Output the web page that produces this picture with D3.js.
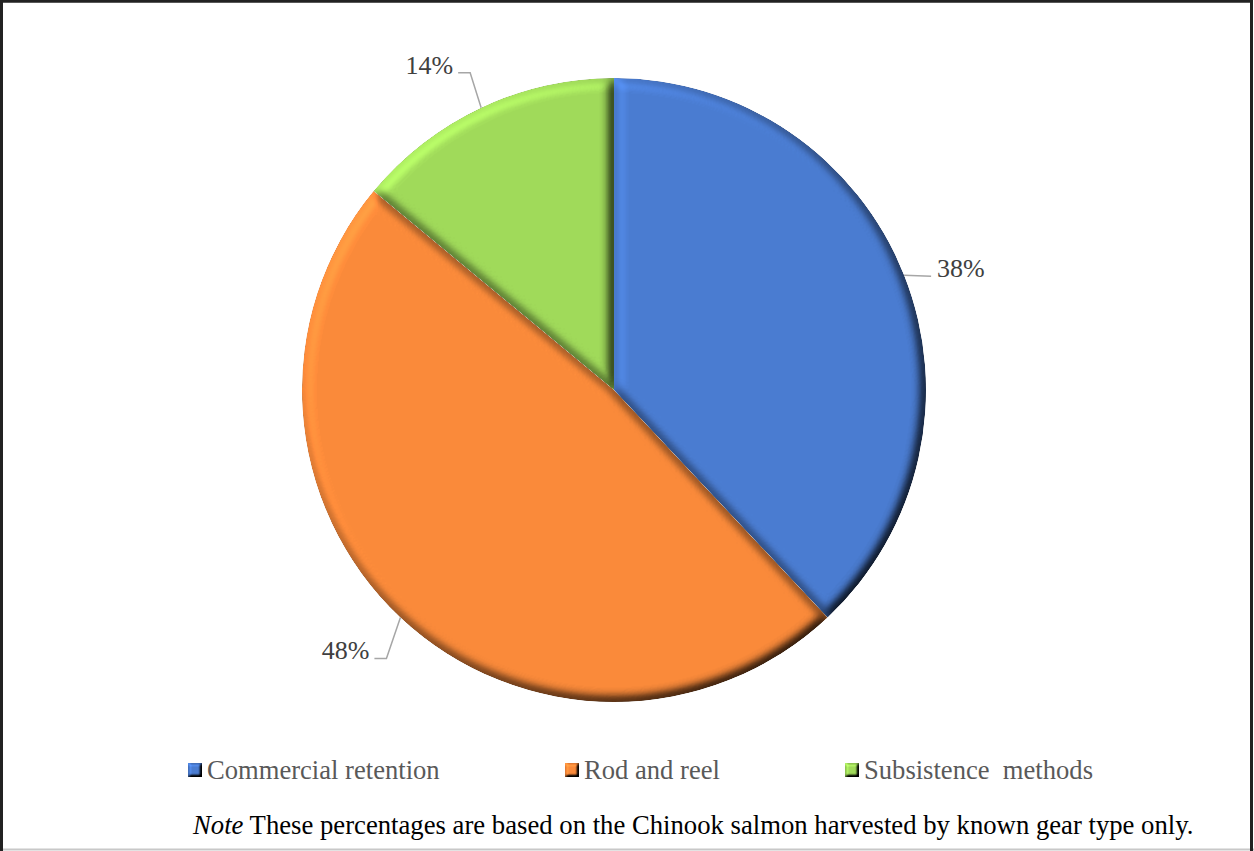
<!DOCTYPE html>
<html>
<head>
<meta charset="utf-8">
<script src="https://cdn.jsdelivr.net/npm/d3@7"></script>
<style>
  html, body { margin: 0; padding: 0; background: #fff; }
  svg { display: block; }
  text { font-family: "Liberation Serif", "Times New Roman", Tinos, "DejaVu Serif", serif; }
</style>
</head>
<body>
<svg id="chart" width="1254" height="851"></svg>
<script>
// Share of Chinook salmon harvest by gear type (percent)
const categories = ["Commercial retention", "Rod and reel", "Subsistence  methods"];
const shares = [38, 48, 14];
const valueLabels = ["38%", "48%", "14%"];
const sliceColors = ["#4a7cd1", "#fa8a3a", "#a0da5a"];
const noteItalic = "Note";
const noteText = " These percentages are based on the Chinook salmon harvested by known gear type only.";

const W = 1254, H = 851;
const svg = d3.select("#chart");
const defs = svg.append("defs");

// Bevel: light the blurred alpha from the upper left and scale the fill
// by the lighting relative to a flat surface.
function addBevel(id, blur, scale, elev) {
  const flat = Math.sin(elev * Math.PI / 180);
  const f = defs.append("filter").attr("id", id)
    .attr("x", "-5%").attr("y", "-5%").attr("width", "110%").attr("height", "110%")
    .attr("color-interpolation-filters", "sRGB");
  f.append("feGaussianBlur").attr("in", "SourceAlpha").attr("stdDeviation", blur).attr("result", "b");
  const lt = f.append("feDiffuseLighting").attr("in", "b").attr("surfaceScale", scale)
    .attr("diffuseConstant", 1).attr("lighting-color", "#fff").attr("result", "l");
  lt.append("feDistantLight").attr("azimuth", 225).attr("elevation", elev);
  f.append("feComposite").attr("in", "SourceGraphic").attr("in2", "l")
    .attr("operator", "arithmetic").attr("k1", 1 / flat).attr("k2", 0).attr("k3", 0).attr("k4", 0)
    .attr("result", "c");
  f.append("feComposite").attr("in", "c").attr("in2", "SourceAlpha").attr("operator", "in");
}
addBevel("bevel", 6, 8, 60);
addBevel("bevelSmall", 1.5, 4, 55);

// Frame
svg.append("rect").attr("x", 0).attr("y", 0).attr("width", W).attr("height", H).attr("fill", "#fff");
svg.append("line").attr("x1", 0).attr("x2", W).attr("y1", 849.5).attr("y2", 849.5)
  .attr("stroke", "#c8c8c8").attr("stroke-width", 2);
svg.append("path").attr("d", `M1.5,851 V1.3 H1251.5 V851`)
  .attr("fill", "none").attr("stroke", "#222").attr("stroke-width", 3);

// Pie
const cx = 614, cy = 390, R = 312;
const pie = d3.pie().sort(null).value(d => d).startAngle(0).endAngle(2 * Math.PI);
const arcs = pie(shares);
const arc = d3.arc().innerRadius(0).outerRadius(R);

const g = svg.append("g").attr("transform", `translate(${cx},${cy})`);
g.selectAll("path.slice").data(arcs).join("path")
  .attr("class", "slice")
  .attr("d", arc)
  .attr("fill", (d, i) => sliceColors[i])
  .attr("filter", "url(#bevel)");

// Data labels with leader lines
const labelLayout = [
  { dx: 27, dy: 1, side: "right" },
  { dx: -14, dy: 41, side: "left" },
  { dx: -11, dy: -35, side: "left" }
];
arcs.forEach((d, i) => {
  const a = (d.startAngle + d.endAngle) / 2;
  const sx = Math.sin(a) * R, sy = -Math.cos(a) * R;
  const L = labelLayout[i];
  const ex = sx + L.dx, ey = sy + L.dy;
  let pts, tx, anchor;
  if (L.side === "right") {
    pts = [[sx, sy], [ex, ey]];
    tx = ex + 6; anchor = "start";
  } else {
    pts = [[sx, sy], [ex, ey], [ex - 12, ey]];
    tx = ex - 17; anchor = "end";
  }
  g.append("path").attr("d", d3.line()(pts))
    .attr("fill", "none").attr("stroke", "#a6a6a6").attr("stroke-width", 1.5);
  g.append("text").attr("x", tx).attr("y", ey + 1)
    .attr("text-anchor", anchor)
    .attr("font-size", 26).attr("fill", "#404040")
    .text(valueLabels[i]);
});

// Legend
const legendX = [188, 565, 845];
const legend = svg.append("g");
categories.forEach((c, i) => {
  legend.append("rect").attr("x", legendX[i]).attr("y", 763).attr("width", 14).attr("height", 14)
    .attr("fill", sliceColors[i]).attr("filter", "url(#bevelSmall)");
  legend.append("text").attr("x", legendX[i] + 19).attr("y", 779)
    .attr("font-size", 26.6).attr("fill", "#595959")
    .style("white-space", "pre")
    .text(c);
});

// Note
const note = svg.append("text").attr("x", 193).attr("y", 834)
  .attr("font-size", 26.7).attr("fill", "#000");
note.append("tspan").attr("font-style", "italic").text(noteItalic);
note.append("tspan").text(noteText);
</script>
</body>
</html>
